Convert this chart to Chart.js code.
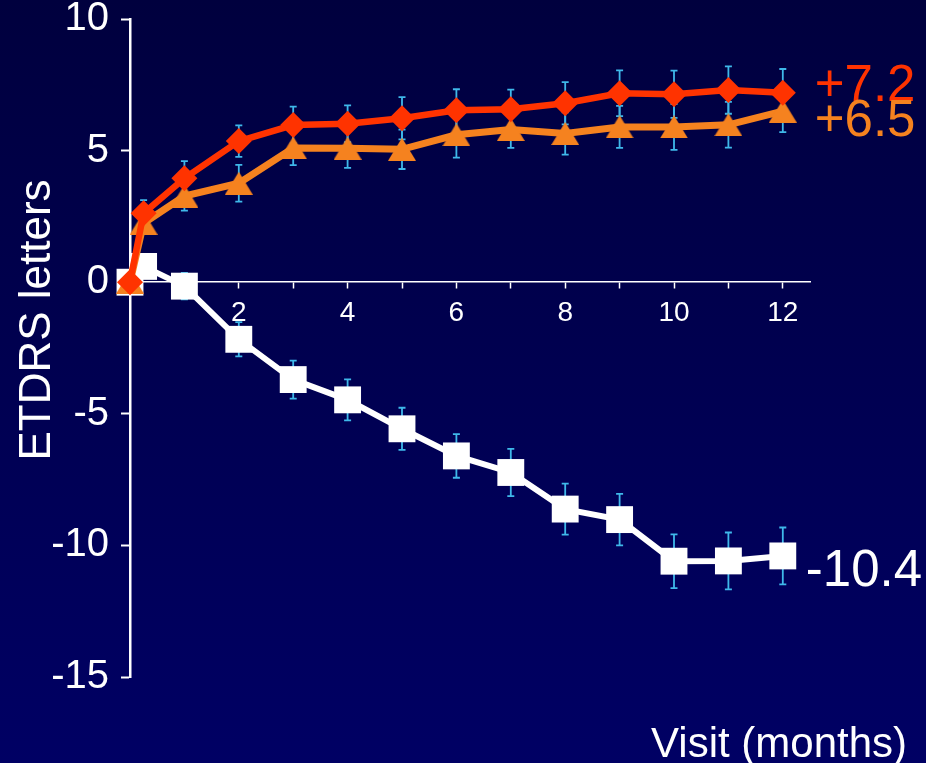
<!DOCTYPE html>
<html>
<head>
<meta charset="utf-8">
<script src="https://cdn.jsdelivr.net/npm/chart.js@4.4.1/dist/chart.umd.min.js"></script>
<style>
  html, body { margin: 0; padding: 0; }
  body {
    width: 926px; height: 763px; overflow: hidden;
    background: linear-gradient(to bottom, #00003e 0%, #000064 100%);
  }
  #wrap { position: relative; width: 926px; height: 763px; }
</style>
</head>
<body>
<div id="wrap"><canvas id="acuity"></canvas></div>
<script>
// visit times in months (week 1 = 0.25)
const visitMonths = [0, 0.25, 1, 2, 3, 4, 5, 6, 7, 8, 9, 10, 11, 12];

// mean change in ETDRS letters, and error bar half-widths
const redMean    = [0, 2.62, 3.95, 5.36, 5.97, 6.02, 6.23, 6.53, 6.57, 6.8, 7.18, 7.14, 7.3, 7.2];
const redErr     = [0, 0.5, 0.65, 0.6, 0.7, 0.7, 0.8, 0.8, 0.75, 0.8, 0.87, 0.9, 0.9, 0.9];
const orangeMean = [0, 2.24, 3.27, 3.76, 5.1, 5.09, 5.05, 5.6, 5.8, 5.65, 5.9, 5.9, 5.98, 6.5];
const orangeErr  = [0, 0.4, 0.55, 0.7, 0.65, 0.75, 0.75, 0.87, 0.7, 0.8, 0.8, 0.87, 0.87, 0.8];
const whiteMean  = [0, 0.6, -0.15, -2.17, -3.7, -4.47, -5.57, -6.6, -7.23, -8.62, -9.02, -10.6, -10.59, -10.4];
const whiteErr   = [0, 0.3, 0.5, 0.65, 0.72, 0.78, 0.8, 0.83, 0.9, 0.97, 0.98, 1.02, 1.08, 1.08];

// axis ticks
const monthTicks = [1, 2, 3, 4, 5, 6, 7, 8, 9, 10, 11, 12];
const labeledMonths = [2, 4, 6, 8, 10, 12];
const letterTicks = [-15, -10, -5, 0, 5, 10];

const FONT = "'Liberation Sans', Arial, Helvetica, sans-serif";
Chart.defaults.font.family = FONT;

const toPoints = vals => vals.map((v, i) => ({ x: visitMonths[i], y: v }));

// triangle marker centred on its point (the built-in one sits high)
function triangleMarker(color, w, h) {
  const c = document.createElement('canvas');
  c.width = w;
  c.height = h;
  const g = c.getContext('2d');
  g.fillStyle = color;
  g.beginPath();
  g.moveTo(w / 2, 0);
  g.lineTo(w, h);
  g.lineTo(0, h);
  g.closePath();
  g.fill();
  return c;
}

// vertical error bars with small caps, drawn under the lines
const errorBars = {
  id: 'errorBars',
  beforeDatasetsDraw(chart) {
    const { ctx } = chart;
    const xs = chart.scales.x, ys = chart.scales.y;
    ctx.save();
    ctx.strokeStyle = '#3fb8ea';
    ctx.lineWidth = 1.8;
    chart.data.datasets.forEach(ds => {
      ds.data.forEach((pt, i) => {
        const e = ds.errors[i];
        if (!e) return;
        const px = xs.getPixelForValue(pt.x);
        const top = ys.getPixelForValue(pt.y + e);
        const bot = ys.getPixelForValue(pt.y - e);
        ctx.beginPath();
        ctx.moveTo(px, top); ctx.lineTo(px, bot);
        ctx.moveTo(px - 3.5, top); ctx.lineTo(px + 3.5, top);
        ctx.moveTo(px - 3.5, bot); ctx.lineTo(px + 3.5, bot);
        ctx.stroke();
      });
    });
    ctx.restore();
  }
};

// final-visit value next to each line, plus the axis titles
const annotations = {
  id: 'annotations',
  afterDraw(chart) {
    const { ctx } = chart;
    const xs = chart.scales.x, ys = chart.scales.y;
    ctx.save();
    ctx.font = `51px ${FONT}`;
    ctx.textAlign = 'left';
    ctx.textBaseline = 'alphabetic';
    chart.data.datasets.forEach(ds => {
      const last = ds.data[ds.data.length - 1];
      const txt = (last.y > 0 ? '+' : '') + last.y.toFixed(1);
      ctx.fillStyle = ds.endLabel.color;
      ctx.fillText(txt, xs.getPixelForValue(last.x) + ds.endLabel.dx,
                   ys.getPixelForValue(last.y) + ds.endLabel.dy);
    });

    ctx.fillStyle = '#ffffff';
    ctx.font = `42px ${FONT}`;
    ctx.textAlign = 'right';
    ctx.fillText('Visit (months)', 907, 757);

    ctx.font = `44px ${FONT}`;
    ctx.textAlign = 'center';
    ctx.translate(50, 320);
    ctx.rotate(-Math.PI / 2);
    ctx.fillText('ETDRS letters', 0, 0);
    ctx.restore();
  }
};

new Chart(document.getElementById('acuity'), {
  type: 'line',
  data: {
    datasets: [
      {
        label: 'Group 1',
        data: toPoints(redMean),
        errors: redErr,
        endLabel: { color: '#ff3300', dx: 32, dy: 8 },
        borderColor: '#ff3300',
        backgroundColor: '#ff3300',
        borderWidth: 6.5,
        pointStyle: 'rectRot',
        pointRadius: 13,
        pointBorderWidth: 0,
        clip: false
      },
      {
        label: 'Group 2',
        data: toPoints(orangeMean),
        errors: orangeErr,
        endLabel: { color: '#f5821f', dx: 32, dy: 25 },
        borderColor: '#f5821f',
        backgroundColor: '#f5821f',
        borderWidth: 7,
        pointStyle: triangleMarker('#f5821f', 28, 23),
        pointRadius: 14,
        pointBorderWidth: 0,
        clip: false
      },
      {
        label: 'Group 3',
        data: toPoints(whiteMean),
        errors: whiteErr,
        endLabel: { color: '#ffffff', dx: 23, dy: 30 },
        borderColor: '#ffffff',
        backgroundColor: '#ffffff',
        borderWidth: 6,
        pointStyle: 'rect',
        pointRadius: 19,
        pointBorderWidth: 0,
        clip: false
      }
    ]
  },
  options: {
    responsive: true,
    maintainAspectRatio: false,
    animation: false,
    tension: 0,
    layout: { padding: { top: 18, right: 116, bottom: 86, left: 0 } },
    plugins: { legend: { display: false }, tooltip: { enabled: false } },
    scales: {
      x: {
        type: 'linear',
        position: { y: 0 },
        min: 0,
        max: 12.5,
        afterBuildTicks: axis => { axis.ticks = monthTicks.map(v => ({ value: v })); },
        grid: { drawOnChartArea: false, color: '#ffffff', tickLength: 6, tickWidth: 1.5 },
        border: { color: '#ffffff', width: 1.5 },
        ticks: {
          color: '#ffffff',
          font: { size: 28 },
          padding: 8,
          autoSkip: false,
          maxRotation: 0,
          callback: v => labeledMonths.includes(v) ? String(v) : ''
        }
      },
      y: {
        type: 'linear',
        min: -15,
        max: 10,
        afterBuildTicks: axis => { axis.ticks = letterTicks.map(v => ({ value: v })); },
        afterFit: axis => {
          axis.width = 130;
          axis.paddingTop = 0;
          axis.paddingBottom = 0;
        },
        grid: { drawOnChartArea: false, color: '#ffffff', tickLength: 9, tickWidth: 2 },
        border: { color: '#ffffff', width: 2.5 },
        ticks: { color: '#ffffff', font: { size: 40 }, padding: 12 }
      }
    }
  },
  plugins: [errorBars, annotations]
});
</script>
</body>
</html>
